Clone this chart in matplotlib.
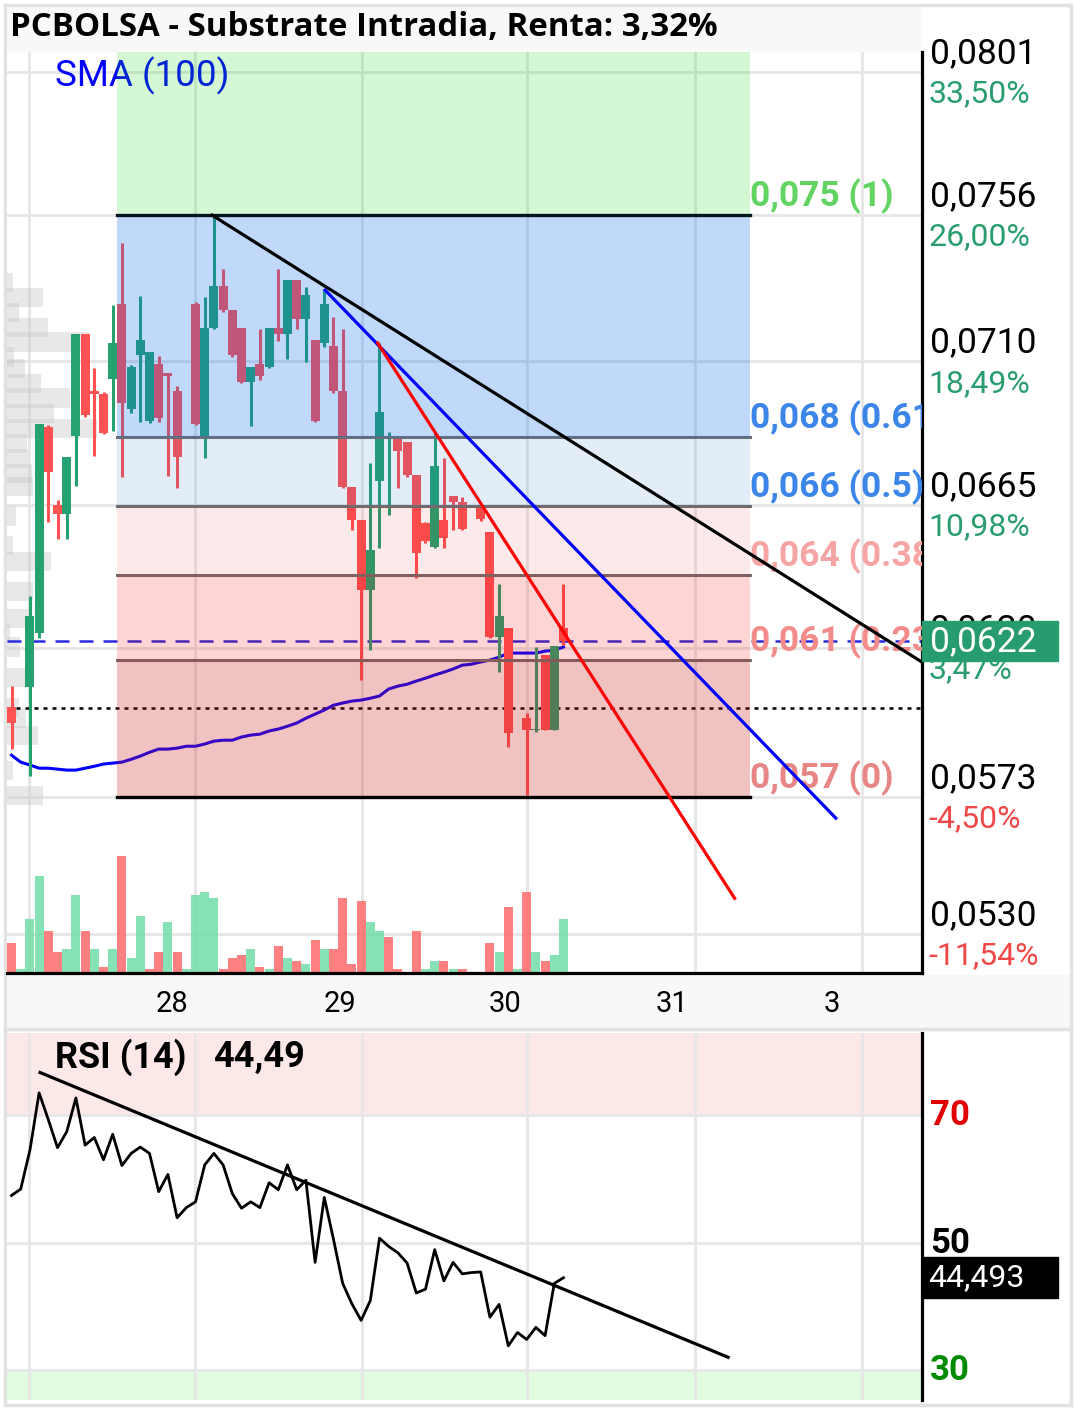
import numpy as np
import matplotlib
matplotlib.use("Agg")
import matplotlib.pyplot as plt
import matplotlib.transforms as mtransforms
from matplotlib.patches import Rectangle

plt.rcParams['font.family'] = ['Roboto', 'DejaVu Sans']

W, H = 1076, 1409

# velas de 30 minutos, PCBOLSA (euros)
opens = [0.06013, 0.05963, 0.06076, 0.06246, 0.06893, 0.06648, 0.06620, 0.06865, 0.07186, 0.07007,
         0.06997, 0.07044, 0.07280, 0.06950, 0.07120, 0.06912, 0.07092, 0.07063, 0.07007, 0.06799,
         0.07280, 0.06865, 0.07205, 0.07337, 0.07261, 0.07205, 0.07035, 0.07092, 0.07082, 0.07205,
         0.07186, 0.07356, 0.07233, 0.07167, 0.07158, 0.07148, 0.07007, 0.06705, 0.06601, 0.06381,
         0.06724, 0.06830, 0.06856, 0.06846, 0.06743, 0.06592, 0.06516, 0.06601, 0.06677, 0.06658,
         0.06573, 0.06642, 0.06563, 0.06233, 0.06261, 0.05945, 0.05978, 0.05941, 0.06177, 0.05941,
         0.06261]
highs = [0.06079, 0.05963, 0.06362, 0.06903, 0.06900, 0.06664, 0.06799, 0.07186, 0.07186, 0.07079,
         0.07003, 0.07277, 0.07472, 0.07088, 0.07305, 0.07129, 0.07117, 0.07063, 0.07022, 0.06799,
         0.07287, 0.07302, 0.07554, 0.07390, 0.07261, 0.07205, 0.07082, 0.07202, 0.07205, 0.07390,
         0.07356, 0.07356, 0.07334, 0.07167, 0.07327, 0.07239, 0.07202, 0.06705, 0.06601, 0.06780,
         0.07158, 0.06878, 0.06856, 0.06846, 0.06743, 0.06595, 0.06875, 0.06796, 0.06677, 0.06673,
         0.06573, 0.06642, 0.06563, 0.06400, 0.06261, 0.05945, 0.05994, 0.06202, 0.06177, 0.06205,
         0.06400]
lows = [0.05881, 0.05963, 0.05796, 0.06230, 0.06595, 0.06541, 0.06541, 0.06708, 0.06925, 0.06802,
        0.06871, 0.06881, 0.06736, 0.06937, 0.06909, 0.06906, 0.06909, 0.06739, 0.06702, 0.06799,
        0.06900, 0.06796, 0.07202, 0.07255, 0.07114, 0.07032, 0.06897, 0.07041, 0.07079, 0.07164,
        0.07107, 0.07202, 0.07098, 0.06909, 0.07145, 0.07000, 0.06702, 0.06570, 0.06098, 0.06192,
        0.06513, 0.06617, 0.06702, 0.06736, 0.06419, 0.06529, 0.06513, 0.06513, 0.06570, 0.06570,
        0.06573, 0.06598, 0.06230, 0.06123, 0.05887, 0.05945, 0.05736, 0.05934, 0.05941, 0.05941,
        0.06208]
closes = [0.05963, 0.05963, 0.06299, 0.06903, 0.06752, 0.06620, 0.06799, 0.07186, 0.06931, 0.06997,
          0.06875, 0.07158, 0.06969, 0.07082, 0.07167, 0.07129, 0.06922, 0.07054, 0.06799, 0.06799,
          0.06903, 0.07205, 0.07337, 0.07261, 0.07120, 0.07035, 0.07082, 0.07054, 0.07205, 0.07186,
          0.07356, 0.07233, 0.07309, 0.06912, 0.07280, 0.07007, 0.06705, 0.06601, 0.06381, 0.06507,
          0.06941, 0.06830, 0.06818, 0.06743, 0.06497, 0.06535, 0.06771, 0.06544, 0.06658, 0.06573,
          0.06573, 0.06604, 0.06233, 0.06299, 0.05931, 0.05945, 0.05941, 0.05945, 0.05941, 0.06205,
          0.06220]
volume = [30, 3.7, 54, 97, 42.3, 21.3, 24.3, 78.3, 42.3, 24.3,
          6.3, 24.3, 117, 15.3, 57.3, 3.7, 21.3, 51.3, 21.3, 3.7,
          78.3, 81.3, 75.3, 3.7, 15.3, 18.3, 24.3, 6.3, 3.7, 27.3,
          15.3, 12.3, 9.3, 33.3, 24.3, 24.3, 75.3, 9.3, 72.3, 51.3,
          42.3, 36.3, 3.7, 0, 42.3, 3.7, 12.3, 12.3, 3.7, 3.7,
          0, 0, 30.3, 21.3, 66.3, 3.7, 81.3, 21.3, 12.3, 18.3, 54.3]
sma100 = [0.05862, 0.05840, 0.05831, 0.05821, 0.05821, 0.05818, 0.05815, 0.05815, 0.05821, 0.05827,
          0.05834, 0.05837, 0.05840, 0.05849, 0.05859, 0.05871, 0.05881, 0.05881, 0.05884, 0.05890,
          0.05890, 0.05897, 0.05906, 0.05909, 0.05909, 0.05919, 0.05925, 0.05928, 0.05938, 0.05944,
          0.05953, 0.05963, 0.05978, 0.05991, 0.06004, 0.06019, 0.06026, 0.06032, 0.06035, 0.06041,
          0.06048, 0.06070, 0.06079, 0.06085, 0.06095, 0.06104, 0.06114, 0.06123, 0.06133, 0.06145,
          0.06148, 0.06155, 0.06161, 0.06170, 0.06183, 0.06183, 0.06183, 0.06183, 0.06189, 0.06192,
          0.06202]
rsi14 = [57.4, 58.4, 64.5, 73.5, 69.3, 64.9, 67.4, 72.7, 65.3, 66.5,
         63.0, 67.0, 62.1, 64.0, 65.0, 64.0, 58.0, 60.7, 53.9, 55.5,
         56.4, 62.2, 64.0, 62.2, 57.7, 55.4, 56.4, 55.5, 59.4, 58.3,
         62.2, 58.3, 59.8, 46.9, 57.1, 50.5, 43.6, 40.4, 37.8, 40.9,
         50.7, 49.4, 48.4, 46.8, 42.1, 42.7, 48.9, 44.0, 46.9, 45.1,
         45.3, 45.4, 38.3, 40.3, 33.8, 35.9, 34.8, 36.7, 35.4, 43.6, 44.493]

# perfil de volumen por precio (izquierda)
profile_price = [0.07349, 0.07302, 0.07255, 0.07208, 0.07161, 0.07114, 0.07079, 0.07032, 0.06985, 0.06937,
                 0.06890, 0.06843, 0.06796, 0.06749, 0.06708, 0.06614, 0.06522, 0.06472, 0.06378, 0.06293,
                 0.06246, 0.06202, 0.06107, 0.06013, 0.05978, 0.05925, 0.05815, 0.05736]
profile_vol = [6, 36, 12, 41, 82, 7, 18, 34, 63, 47, 90, 20, 21, 25, 26, 9, 6, 44, 26, 25,
               3, 13, 18, 12, 19, 31, 6, 36]

price_ticks = [0.0801, 0.0756, 0.0710, 0.0665, 0.0620, 0.0573, 0.0530]
pct_labels = ['33,50%', '26,00%', '18,49%', '10,98%', '3,47%', '-4,50%', '-11,54%']
day_pos = [1.9, 19.95, 38.1, 56.0, 74.3, 92.5]
day_labels = ['28', '29', '30', '31', '3']
day_label_pos = [17.45, 35.7, 53.6, 71.8, 89.2]

fib_low, fib_high = 0.0573, 0.0756
fib_levels = [0, 0.236, 0.382, 0.5, 0.618, 1]
fib_x = (11.5, 80.3)
last_price = 0.0622
prev_close = 0.0601

# lineas de tendencia (x en velas)
trend_black = ([21.8, 99.0], [0.0756, 0.06154])
trend_blue = ([34.1, 89.6], [0.07324, 0.05664])
trend_red = ([39.8, 78.6], [0.07158, 0.05412])
rsi_trend = ([3.1, 77.9], [76.7, 32.0])

GREEN = '#26a270'
RED = '#ff5252'

n = len(closes)
x = np.arange(n)
o = np.array(opens); c = np.array(closes)
h = np.array(highs); l = np.array(lows)
up = c >= o

fig = plt.figure(figsize=(W / 100, H / 100), dpi=100)


def rect(left, top, right, bottom):
    return [left / W, 1 - bottom / H, (right - left) / W, (bottom - top) / H]


# fondos y marco
fig.add_artist(Rectangle((8 / W, 1 - 50 / H), 912 / W, 42 / H, transform=fig.transFigure,
                         color='#f8f8f8', zorder=-5))
fig.add_artist(Rectangle((8 / W, 1 - 1027 / H), 1062 / W, 52 / H, transform=fig.transFigure,
                         color='#f8f8f8', zorder=-5))
fig.add_artist(Rectangle((5 / W, 1 - 1405 / H), 1066 / W, 1400 / H, transform=fig.transFigure,
                         fill=False, ec='#e2e2e2', lw=2.5, zorder=-4))
fig.add_artist(plt.Line2D([5 / W, 1071 / W], [1 - 1029 / H] * 2, transform=fig.transFigure,
                          color='#e2e2e2', lw=2.5))

ax = fig.add_axes(rect(7, 52, 922, 973))
ax.set_xlim(-0.49, 98.97)
ax.set_ylim(0.05177, 0.08073)
ax.set_xticks([]); ax.set_yticks([])
for s in ['top', 'left']:
    ax.spines[s].set_visible(False)
for s in ['right', 'bottom']:
    ax.spines[s].set_color('black'); ax.spines[s].set_linewidth(2.3)

for p in price_ticks:
    ax.axhline(p, color='#e6e6e6', lw=2.0, zorder=0)
for d in day_pos:
    ax.axvline(d, color='#e6e6e6', lw=2.0, zorder=0)

# perfil de volumen
prof_w = np.array(profile_vol) / max(profile_vol) * 0.098
ax.barh(profile_price, prof_w, height=0.0006, left=0, color='#c4c4c4', alpha=0.38,
        transform=ax.get_yaxis_transform(), zorder=1, lw=0)

# volumen
prev = np.concatenate([[o[0]], c[:-1]])
vol_up = c >= prev
vol_h = np.array(volume) / max(volume) * 0.127
ax.bar(x, vol_h, width=0.97, color=np.where(vol_up, '#71dda7', '#ff6a6a'), alpha=0.85,
       transform=ax.get_xaxis_transform(), zorder=1.5, lw=0)

# lineas de precio
ax.axhline(last_price, color='#2b2be0', lw=1.8, ls=(0, (5.6, 4)), zorder=2)
ax.axhline(prev_close, color='black', lw=1.8, ls=(0, (1.6, 2.0)), zorder=2)
ax.plot(x, sma100, color='#0000ff', lw=2.2, zorder=2.5)

# velas
cols = np.where(up, GREEN, RED)
ax.vlines(x, l, h, colors=cols, lw=2.2, zorder=3)
ax.bar(x, c - o, bottom=o, width=0.97, color=cols, lw=0, zorder=3)

# zonas de Fibonacci
fib_p = [fib_low + lv * (fib_high - fib_low) for lv in fib_levels]
zone_cols = [('#c81c1c', 0.267), ('#f30000', 0.165), ('#e60000', 0.082),
             ('#1671cd', 0.12), ('#0866eb', 0.255)]
for i, (zc, za) in enumerate(zone_cols):
    ax.fill_between(fib_x, fib_p[i], fib_p[i + 1], color=zc, alpha=za, lw=0, zorder=4)
ax.fill_between(fib_x, fib_p[-1], 0.0808, color='#00d600', alpha=0.17, lw=0, zorder=4)
for p in fib_p[1:-1]:
    ax.plot(fib_x, [p, p], color='#707070', lw=2.2, zorder=3.5)
ax.plot(fib_x, [fib_p[0]] * 2, color='black', lw=2.4, zorder=5)
ax.plot(fib_x, [fib_p[-1]] * 2, color='#06141c', lw=2.4, zorder=5)

fib_cols = ['#e88686', '#f38b8b', '#f6a4a4', '#3b86e8', '#3b86e8', '#62d462']
lab_tr = mtransforms.offset_copy(ax.transData, fig=fig, x=0, y=19, units='dots')
for lv, p, fc in zip(fib_levels, fib_p, fib_cols):
    txt = '{:.3f} ({:g})'.format(np.floor(p * 1000) / 1000, lv).replace('0.0', '0,0', 1)
    ax.text(fib_x[1], p, txt, transform=lab_tr, color=fc, fontsize=25.5, fontweight='bold',
            ha='left', va='center', clip_on=True, zorder=5.5)

# tendencias
ax.plot(*trend_black, color='black', lw=2.3, zorder=6)
ax.plot(*trend_blue, color='#0000ff', lw=2.3, zorder=6)
ax.plot(*trend_red, color='#ff0000', lw=2.3, zorder=6)

ax.text(0.0525, 0.974, 'SMA (100)', transform=ax.transAxes, color='#0000ff', fontsize=26.5,
        ha='left', va='center')

# eje de precios
ytr = ax.get_yaxis_transform()
for p, pl in zip(price_ticks, pct_labels):
    ax.annotate('{:.4f}'.format(p).replace('.', ','), xy=(1, p), xycoords=ytr,
                xytext=(5.5, 13.2), textcoords='offset points', fontsize=25.5, color='black',
                va='center', ha='left', annotation_clip=False, zorder=9)
    ax.annotate(pl, xy=(1, p), xycoords=ytr, xytext=(4.5, -15.8), textcoords='offset points',
                fontsize=23, color='#2a9d6f' if not pl.startswith('-') else '#f04848',
                va='center', ha='left', annotation_clip=False, zorder=9)
ax.add_patch(Rectangle((1.0, last_price - 0.00063), 136 / 915, 0.00126, transform=ytr,
                       color='#279c6e', clip_on=False, zorder=10))
ax.annotate('{:.4f}'.format(last_price).replace('.', ','), xy=(1, last_price), xycoords=ytr,
            xytext=(5.5, 0), textcoords='offset points', fontsize=25.5, color='white',
            va='center', ha='left', annotation_clip=False, zorder=11)

xtr = ax.get_xaxis_transform()
for dp, dl in zip(day_label_pos, day_labels):
    ax.text(dp, -0.034, dl, transform=xtr, fontsize=21, ha='center', va='center', clip_on=False)

fig.text(10 / W, 1 - 28 / H, 'PCBOLSA - Substrate Intradia, Renta: 3,32%', fontsize=23.8,
         fontweight='bold', family=['Open Sans', 'DejaVu Sans'], va='center', ha='left')

# RSI
ar = fig.add_axes(rect(7, 1033, 922, 1400))
ar.set_xlim(-0.49, 98.97)
ar.set_ylim(25.3, 82.9)
ar.set_xticks([]); ar.set_yticks([])
for s in ['top', 'left', 'bottom']:
    ar.spines[s].set_visible(False)
ar.spines['right'].set_color('black'); ar.spines['right'].set_linewidth(2.3)
ar.axhspan(70, 82.9, color='#fde8e8', lw=0, zorder=0)
ar.axhspan(25.3, 30, color='#e0fbe0', lw=0, zorder=0)
for v in [70, 50, 30]:
    ar.axhline(v, color='#e6e6e6', lw=2.0, zorder=0.5)
for d in day_pos:
    ar.axvline(d, color='#e6e6e6', lw=2.0, zorder=0.5)
ar.plot(x, rsi14, color='black', lw=2.0, zorder=3)
ar.plot(*rsi_trend, color='black', lw=2.3, zorder=3)
ar.text(0.0525, 0.934, 'RSI (14)', transform=ar.transAxes, fontsize=26, fontweight='bold',
        ha='left', va='center')
ar.text(0.225, 0.934, '{:.2f}'.format(rsi14[-1]).replace('.', ','), transform=ar.transAxes,
        fontsize=26, fontweight='bold', ha='left', va='center')
rtr = ar.get_yaxis_transform()
for v, vc in [(70, '#e00000'), (50, 'black'), (30, '#008a00')]:
    ar.annotate(str(v), xy=(1, v - 0.1), xycoords=rtr, xytext=(5.5, 0), textcoords='offset points',
                fontsize=25, fontweight='bold', color=vc, va='center', ha='left',
                annotation_clip=False)
ar.add_patch(Rectangle((1.0, rsi14[-1] - 3.2), 136 / 915, 6.4, transform=rtr, color='black',
                       clip_on=False, zorder=10))
ar.annotate('{:.3f}'.format(rsi14[-1]).replace('.', ','), xy=(1, rsi14[-1]), xycoords=rtr,
            xytext=(4.5, 0), textcoords='offset points', fontsize=23, color='white',
            va='center', ha='left', annotation_clip=False, zorder=11)

fig.savefig('out.png', dpi=100)
